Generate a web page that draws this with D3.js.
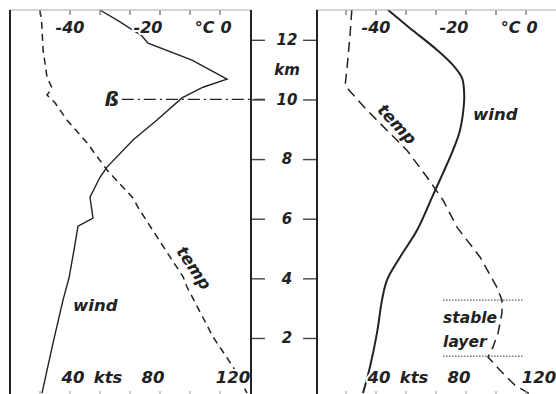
<!DOCTYPE html>
<html>
<head>
  <meta charset="utf-8">
  <script src="https://cdn.jsdelivr.net/npm/d3@7"></script>
  <style>
    body { margin: 0; background: #fff; }
    text {
      font-family: "DejaVu Sans", sans-serif;
      font-weight: bold;
      font-style: italic;
      fill: #222;
    }
    .halo { paint-order: stroke; stroke: #fff; stroke-width: 4px; stroke-linejoin: round; }
  </style>
</head>
<body>
<script>
  // axis values
  var kmTicks = [2, 4, 6, 8, 10, 12];
  var tempLabels = [-40, -20, 0];
  var windLabels = [40, 80, 120];
  var scaleTicksKts = [25, 40, 55, 70, 85, 100, 115];

  // left sounding (jet at ~10.7 km)
  var leftTempKm = [13.0, 12.66, 11.66, 10.75, 10.38, 10.15, 9.88, 9.31, 8.54, 7.63, 6.69, 6.39, 5.39, 4.05, 3.71, 2.03, 1.03, 0.15];
  var leftTempC  = [-47.7, -47.3, -46.9, -45.9, -44.6, -45.9, -43.8, -40.8, -35.6, -30.5, -23.8, -22.6, -17.7, -11.0, -10.0, -3.3, 1.8, 5.4];
  var leftWindKm  = [13.0, 12.6, 12.13, 11.89, 11.32, 10.68, 10.41, 10.05, 9.31, 8.64, 7.73, 7.39, 6.72, 6.02, 5.75, 4.95, 4.01, 3.27, 1.83, 0.15];
  var leftWindKts = [55, 65, 76, 79, 101, 118.5, 106.5, 96, 83.5, 71.5, 58.5, 55, 50, 51.5, 44, 42, 39.5, 36.5, 31.5, 26];

  // right sounding (stable layer near the ground)
  var rightTempKm = [13.0, 12.09, 11.09, 10.48, 10.38, 9.64, 8.97, 8.3, 7.39, 6.62, 5.71, 4.71, 3.70, 3.27, 2.84, 2.17, 1.70, 1.36, 0.92, 0.42, 0.12];
  var rightTempC  = [-46.2, -46.7, -47.4, -47.9, -47.4, -42.3, -37.2, -32.1, -26.9, -22.8, -19.2, -13.3, -9.0, -7.7, -7.7, -8.7, -10.0, -11.3, -8.2, -4.4, -0.5];
  var rightWindKm  = [13.0, 12.39, 11.66, 11.15, 10.72, 10.31, 9.88, 8.97, 8.30, 7.53, 6.79, 5.61, 4.71, 3.94, 3.27, 2.17, 1.03, 0.15];
  var rightWindKts = [46, 57, 70.5, 78.5, 83, 84, 84, 82, 78.5, 73.5, 68.5, 60.5, 52, 45.5, 43, 40.5, 37, 33.5];

  var stableLayerKm = [3.27, 1.39];

  var width = 556, height = 394;
  var svg = d3.select("body").append("svg")
      .attr("width", width)
      .attr("height", height);

  var y = d3.scaleLinear().domain([0, 13]).range([397.6, 10]);

  function zip(km, vals) {
    return km.map(function(k, i) { return {km: k, v: vals[i]}; });
  }

  var panels = [
    {left: 10, right: 251, temp: zip(leftTempKm, leftTempC), wind: zip(leftWindKm, leftWindKts),
     windCurve: d3.curveLinear, tempCurve: d3.curveLinear, windWidth: 1.4, dash: "7,5"},
    {left: 316, right: 556, temp: zip(rightTempKm, rightTempC), wind: zip(rightWindKm, rightWindKts),
     windCurve: d3.curveCatmullRom, tempCurve: d3.curveLinear, windWidth: 2, dash: "10,6"}
  ];

  panels.forEach(function(p) {
    p.x = d3.scaleLinear().domain([-40, 0]).range([p.left + 60, p.left + 216]);
    p.w = d3.scaleLinear().domain([40, 120]).range([p.left + 60, p.left + 220]);

    var tempLine = d3.line().curve(p.tempCurve)
        .x(function(d) { return p.x(d.v); })
        .y(function(d) { return y(d.km); });
    var windLine = d3.line().curve(p.windCurve)
        .x(function(d) { return p.w(d.v); })
        .y(function(d) { return y(d.km); });

    svg.append("path").datum(p.temp)
        .attr("d", tempLine)
        .attr("fill", "none")
        .attr("stroke", "#222")
        .attr("stroke-width", 1.5)
        .attr("stroke-dasharray", p.dash);

    svg.append("path").datum(p.wind)
        .attr("d", windLine)
        .attr("fill", "none")
        .attr("stroke", "#222")
        .attr("stroke-width", p.windWidth);

    // top temperature labels
    svg.selectAll(null).data(tempLabels).enter().append("text")
        .attr("class", "halo")
        .attr("x", function(d) { return p.x(d); })
        .attr("y", 33)
        .attr("text-anchor", "middle")
        .style("font-size", "16px")
        .text(function(d) { return d; });
    svg.append("text")
        .attr("class", "halo")
        .attr("x", p.x(-5.5))
        .attr("y", 33)
        .attr("text-anchor", "middle")
        .style("font-size", "16px")
        .text("°C");

    // bottom wind labels
    svg.selectAll(null).data(windLabels).enter().append("text")
        .attr("class", "halo")
        .attr("x", function(d) { return p.w(d) + 3; })
        .attr("y", 383)
        .attr("text-anchor", "middle")
        .style("font-size", "16.5px")
        .text(function(d) { return d; });
    svg.append("text")
        .attr("class", "halo")
        .attr("x", p.w(57.5) + 3)
        .attr("y", 383)
        .attr("text-anchor", "middle")
        .style("font-size", "16.5px")
        .text("kts");

    // top and bottom scale ticks
    svg.selectAll(null).data(scaleTicksKts).enter().append("line")
        .attr("x1", function(d) { return p.w(d); })
        .attr("x2", function(d) { return p.w(d); })
        .attr("y1", 10).attr("y2", 15)
        .attr("stroke", "#666").attr("stroke-width", 1.2);
    svg.selectAll(null).data(scaleTicksKts).enter().append("line")
        .attr("x1", function(d) { return p.w(d); })
        .attr("x2", function(d) { return p.w(d); })
        .attr("y1", 391).attr("y2", 394)
        .attr("stroke", "#aaa").attr("stroke-width", 1.2);

    // top frame line
    svg.append("line")
        .attr("x1", p.left).attr("x2", p.right)
        .attr("y1", 10).attr("y2", 10)
        .attr("stroke", "#aaa").attr("stroke-width", 1);
  });

  var L = panels[0], R = panels[1];

  // curve annotations
  svg.append("text").attr("x", L.w(41.5)).attr("y", y(2.9))
      .style("font-size", "16.5px").text("wind");
  svg.append("text").attr("x", R.w(88.5)).attr("y", y(9.31))
      .style("font-size", "16.5px").text("wind");
  svg.append("text")
      .attr("text-anchor", "middle").attr("dy", "0.35em")
      .attr("transform", "translate(" + L.x(-8.2) + "," + y(4.35) + ") rotate(56)")
      .style("font-size", "16.5px").text("temp");
  svg.append("text")
      .attr("text-anchor", "middle").attr("dy", "0.35em")
      .attr("transform", "translate(" + R.x(-34.6) + "," + y(9.17) + ") rotate(47)")
      .style("font-size", "16.5px").text("temp");

  // tropopause marker
  svg.append("line")
      .attr("x1", L.x(-26.7)).attr("x2", 265)
      .attr("y1", y(10)).attr("y2", y(10))
      .attr("stroke", "#222").attr("stroke-width", 1.2)
      .attr("stroke-dasharray", "12,4,2,4");
  svg.append("text")
      .attr("x", L.x(-26.7) - 3).attr("y", y(10))
      .attr("dy", "0.35em").attr("text-anchor", "end")
      .style("font-size", "20px").text("ß");

  // stable layer
  svg.selectAll(null).data(stableLayerKm).enter().append("line")
      .attr("x1", R.x(-22.8)).attr("x2", R.x(-2.3))
      .attr("y1", function(d) { return y(d); })
      .attr("y2", function(d) { return y(d); })
      .attr("stroke", "#333").attr("stroke-width", 1)
      .attr("stroke-dasharray", "1.5,1.5");
  svg.append("text").attr("x", R.x(-22.8)).attr("y", y(2.49))
      .style("font-size", "15.5px").text("stable");
  svg.append("text").attr("x", R.x(-22.8)).attr("y", y(1.69))
      .style("font-size", "15.5px").text("layer");

  // height axis between the panels
  var axisL = 251, axisR = 317;
  var yAxis = svg.append("g")
      .attr("transform", "translate(" + axisL + ",0)")
      .call(d3.axisRight(y).tickValues(kmTicks).tickSize(14).tickPadding(8));
  yAxis.select(".domain").remove();
  yAxis.selectAll(".tick line").attr("stroke", "#444").attr("stroke-width", 1.4);
  yAxis.selectAll(".tick text")
      .attr("x", 36).attr("text-anchor", "middle")
      .style("font-size", "15px");
  yAxis.attr("font-family", null).attr("font-size", null);

  var yAxis2 = svg.append("g")
      .attr("transform", "translate(" + axisR + ",0)")
      .call(d3.axisLeft(y).tickValues(kmTicks).tickSize(14).tickFormat(""));
  yAxis2.select(".domain").remove();
  yAxis2.selectAll(".tick line").attr("stroke", "#444").attr("stroke-width", 1.4);

  svg.append("text")
      .attr("x", 287).attr("y", y(11.0))
      .attr("dy", "0.35em").attr("text-anchor", "middle")
      .style("font-size", "15px").text("km");

  // frame verticals
  [10, axisL, axisR].forEach(function(xv) {
    svg.append("line")
        .attr("x1", xv).attr("x2", xv)
        .attr("y1", 10).attr("y2", height)
        .attr("stroke", "#222").attr("stroke-width", 2);
  });
</script>
</body>
</html>
